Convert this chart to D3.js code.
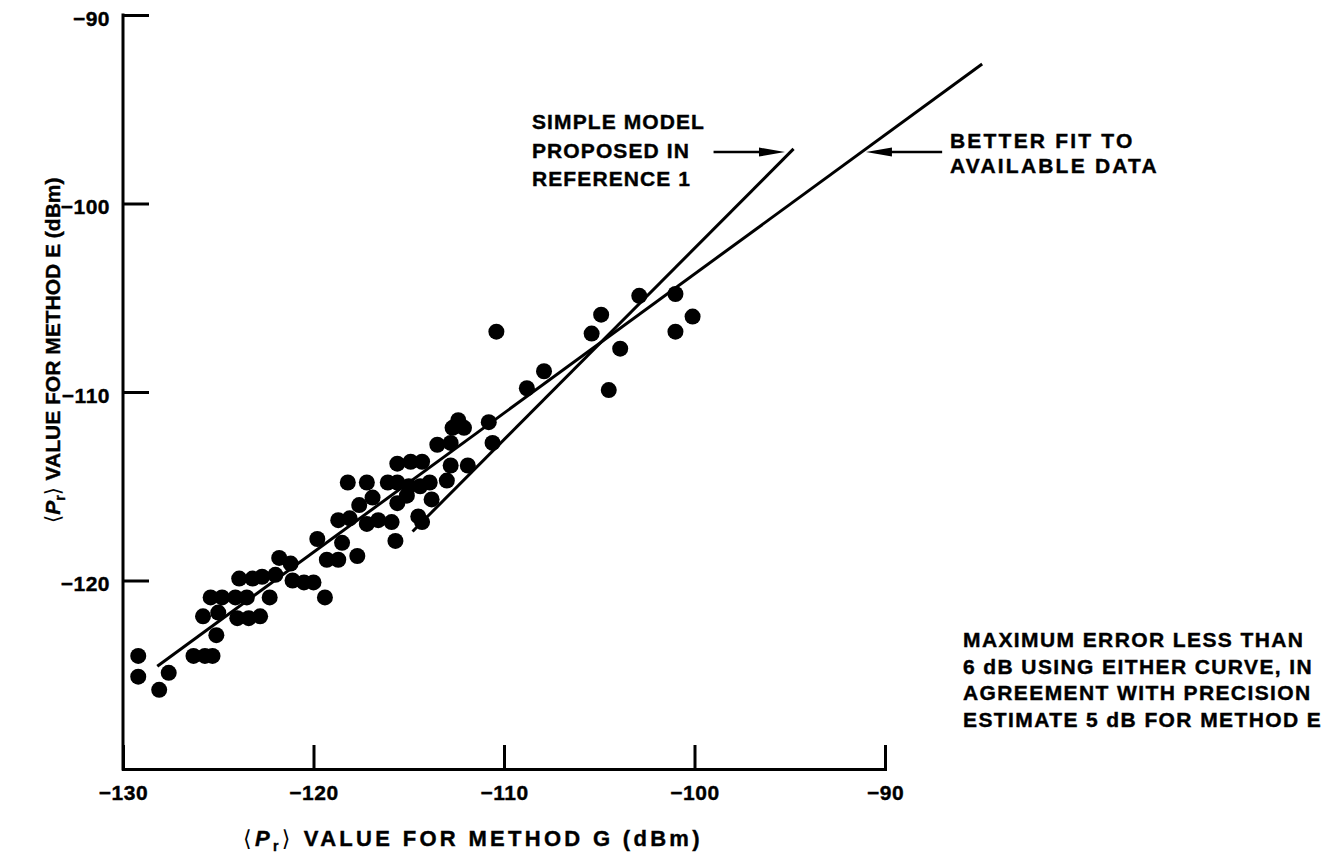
<!DOCTYPE html>
<html>
<head>
<meta charset="utf-8">
<script src="https://cdn.jsdelivr.net/npm/d3@7"></script>
<style>
  html, body { margin: 0; padding: 0; background: #fff; }
  svg { display: block; }
  text { font-family: "Liberation Sans", Arial, Helvetica, sans-serif; font-weight: bold; fill: #000; stroke: #000; stroke-width: 0.4px; }
</style>
</head>
<body>
<svg id="chart" width="1333" height="855"></svg>
<script>
// Mean received power <Pr> per site: method G estimate (x) against method E estimate (y), in dBm
const methodG = [
  -129.2, -129.2, -128.1, -127.6, -126.3, -125.7, -125.3, -125.1, -125.8, -125.0,
  -124.0, -123.4, -122.8, -125.4, -124.8, -124.1, -123.5, -122.3, -123.9, -123.2,
  -122.7, -122.0, -121.8, -121.2, -121.1, -120.5, -120.0, -119.4, -119.8, -119.3,
  -118.7, -118.5, -117.7, -118.7, -118.1, -117.2, -116.6, -115.9, -115.7, -118.2,
  -117.2, -116.1, -115.6, -115.0, -117.6, -116.9, -115.6, -115.1, -115.6, -114.9,
  -114.3, -114.4, -113.9, -113.8, -114.5, -114.3, -113.5, -112.8, -113.0, -112.8,
  -111.9, -112.4, -112.7, -112.1, -110.8, -110.6, -110.4, -104.9, -105.4, -103.9,
  -104.5, -102.9, -101.0, -100.1, -101.0, -107.9, -108.8
];
const methodE = [
  -124.0, -125.1, -125.8, -124.9, -124.0, -124.0, -124.0, -122.9, -121.9, -121.7,
  -122.0, -122.0, -121.9, -120.9, -120.9, -120.9, -120.9, -120.9, -119.9, -119.9,
  -119.8, -119.7, -118.8, -119.1, -120.0, -120.1, -120.1, -120.9, -117.8, -118.9,
  -118.9, -118.0, -118.7, -116.8, -116.7, -117.0, -116.8, -116.9, -117.9, -114.8,
  -114.8, -114.8, -114.8, -115.0, -116.0, -115.6, -115.9, -115.5, -113.8, -113.7,
  -113.7, -115.0, -114.8, -115.7, -116.6, -116.9, -112.8, -112.7, -114.7, -113.9,
  -113.9, -111.5, -111.9, -111.9, -111.6, -112.7, -106.8, -105.9, -106.9, -107.7,
  -109.9, -104.9, -104.8, -106.0, -106.8, -108.9, -109.8
];

const xTickValues = [-130, -120, -110, -100, -90];
const yTickValues = [-120, -110, -100, -90];

// Straight-line models, as end points (dBm)
const betterFitG = [-128.2, -84.9];
const betterFitE = [-124.55, -92.6];
const simpleModelG = [-114.8, -94.8];
const simpleModelE = [-117.4, -97.1];

// Arrow anchors (dBm): tail then tip
const simpleArrowG = [-99.0, -95.25];
const betterArrowG = [-87.0, -91.0];
const arrowE = -97.27;

const simpleLabel = ["SIMPLE MODEL", "PROPOSED IN", "REFERENCE 1"];
const betterLabel = ["BETTER FIT TO", "AVAILABLE DATA"];
const noteLabel = [
  "MAXIMUM ERROR LESS THAN",
  "6 dB USING EITHER CURVE, IN",
  "AGREEMENT WITH PRECISION",
  "ESTIMATE 5 dB FOR METHOD E"
];

const svg = d3.select("#chart");

const x = d3.scaleLinear().domain([-130, -90]).range([123, 885]);
const y = d3.scaleLinear().domain([-130, -90]).range([769, 15]);

const axisStroke = 3;

// x axis (ticks point up into the plot)
const gx = svg.append("g").attr("transform", `translate(0,${y(-130)})`)
  .call(d3.axisBottom(x).tickValues(xTickValues).tickSizeInner(-24).tickSizeOuter(0)
    .tickPadding(16).tickFormat(d3.format("d")));
// y axis (ticks point right into the plot)
const gy = svg.append("g").attr("transform", `translate(${x(-130)},0)`)
  .call(d3.axisLeft(y).tickValues(yTickValues).tickSizeInner(-26).tickSizeOuter(0)
    .tickPadding(13).tickFormat(d3.format("d")));

[gx, gy].forEach(g => {
  g.select(".domain").attr("stroke", "#000").attr("stroke-width", axisStroke).attr("stroke-linecap", "square");
  g.selectAll(".tick line").attr("stroke", "#000").attr("stroke-width", axisStroke);
  g.selectAll(".tick text")
    .attr("fill", "#000")
    .style("font-family", '"Liberation Sans", Arial, sans-serif')
    .style("font-weight", "bold")
    .style("font-size", "21px")
    .style("letter-spacing", "0.5px");
});
gy.select(".domain").attr("d", `M0,${y(-130)}V${y(-90)}`);
gy.selectAll(".tick text").attr("dy", "10px");
gx.selectAll(".tick text").attr("dy", "15px");

// Fitted lines
const lineGen = d3.line().x(d => x(d[0])).y(d => y(d[1]));
svg.append("path")
  .attr("d", lineGen(d3.zip(betterFitG, betterFitE)))
  .attr("fill", "none").attr("stroke", "#000").attr("stroke-width", 3);
svg.append("path")
  .attr("d", lineGen(d3.zip(simpleModelG, simpleModelE)))
  .attr("fill", "none").attr("stroke", "#000").attr("stroke-width", 3);

// Data points
svg.append("g").selectAll("circle")
  .data(d3.zip(methodG, methodE))
  .join("circle")
  .attr("cx", d => x(d[0]))
  .attr("cy", d => y(d[1]))
  .attr("r", 8)
  .attr("fill", "#000");

// Annotation arrows
function arrow(g0, g1, e) {
  const x0 = x(g0), x1 = x(g1), yy = y(e);
  const dir = Math.sign(x1 - x0);
  const len = 26, hw = 4.5;
  svg.append("line")
    .attr("x1", x0).attr("y1", yy).attr("x2", x1 - dir * len * 0.6).attr("y2", yy)
    .attr("stroke", "#000").attr("stroke-width", 2.6);
  svg.append("path")
    .attr("d", `M${x1},${yy}L${x1 - dir * len},${yy - hw}L${x1 - dir * len},${yy + hw}Z`)
    .attr("fill", "#000");
}
arrow(simpleArrowG[0], simpleArrowG[1], arrowE);
arrow(betterArrowG[0], betterArrowG[1], arrowE);

// Text blocks
function block(lines, x0, baselines, spacing) {
  const t = svg.append("text")
    .style("font-size", "21px")
    .style("letter-spacing", spacing + "px");
  lines.forEach((s, i) => {
    t.append("tspan").attr("x", x0).attr("y", baselines[i]).text(s);
  });
}
block(simpleLabel, 532, [129, 157.5, 186], 1.1);
block(betterLabel, 950, [148, 173], 2.2);
block(noteLabel, 963, [647, 674, 700, 727], 1.4);

// Axis titles
function axisTitle(sel, rest) {
  sel.append("tspan").style("font-family", '"DejaVu Sans", sans-serif').style("font-weight", "normal").style("stroke-width", 0).text("\u27E8");
  sel.append("tspan").style("font-style", "italic").text("P");
  sel.append("tspan").attr("dy", 5).style("font-size", "14px").text("r");
  sel.append("tspan").attr("dy", -5).style("font-family", '"DejaVu Sans", sans-serif').style("font-weight", "normal").style("stroke-width", 0).text("\u27E9 ");
  sel.append("tspan").text(rest);
}
const xt = svg.append("text")
  .attr("x", 243).attr("y", 846)
  .style("font-size", "22px").style("letter-spacing", "3.3px");
axisTitle(xt, "VALUE FOR METHOD G (dBm)");

const yt = svg.append("text")
  .attr("transform", "translate(60,523) rotate(-90)")
  .style("font-size", "21px");
axisTitle(yt, "VALUE FOR METHOD E (dBm)");
</script>
</body>
</html>
